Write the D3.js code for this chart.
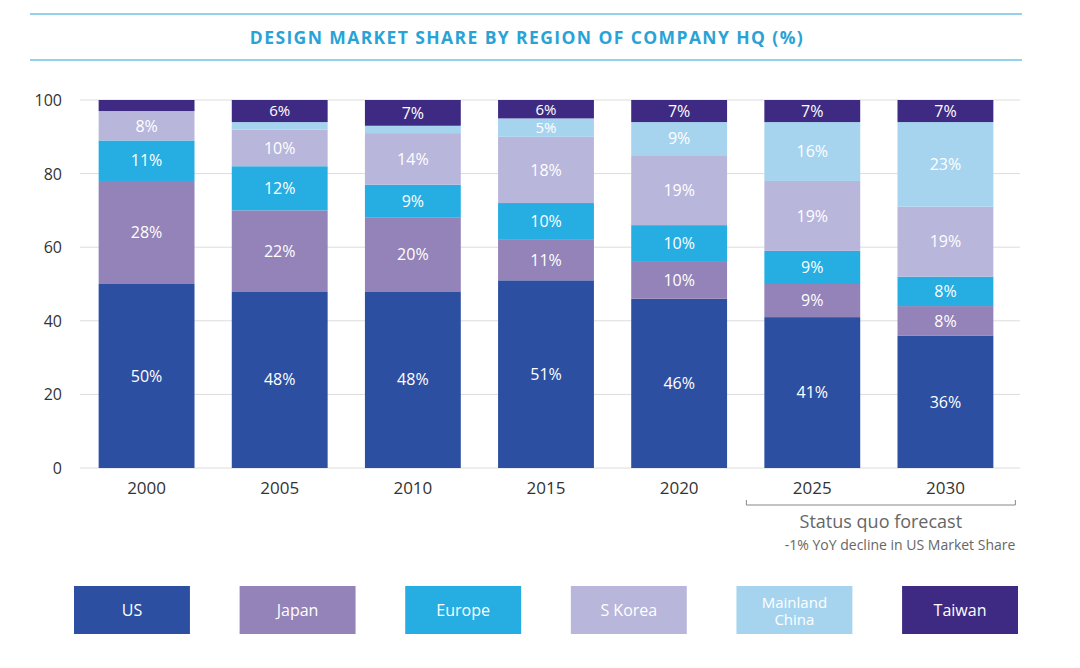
<!DOCTYPE html>
<html><head><meta charset="utf-8">
<script src="https://cdn.jsdelivr.net/npm/d3@7"></script>
<style>body{margin:0;background:#fff;font-family:"Open Sans",sans-serif}</style>
</head><body><svg id="c" width="1080" height="668"></svg>
<script>
const years = ["2000","2005","2010","2015","2020","2025","2030"];
const regions = ["US","Japan","Europe","S Korea","Mainland China","Taiwan"];
const colors = ["#2d4fa2","#9383b8","#26ade2","#b9b6dc","#a6d4ef","#3e2a82"];
const US     = [50,48,48,51,46,41,36];
const Japan  = [28,22,20,11,10,9,8];
const Europe = [11,12,9,10,10,9,8];
const Korea  = [8,10,14,18,19,19,19];
const China  = [0,2,2,5,9,16,23];
const Taiwan = [3,6,7,6,7,7,7];
const labelMin = 5;
const series = [US,Japan,Europe,Korea,China,Taiwan];
const yTicks = [0,20,40,60,80,100];

const svg = d3.select("#c");
svg.append("line").attr("x1",30).attr("x2",1022).attr("y1",14).attr("y2",14).attr("stroke","#29a3d6");
svg.append("line").attr("x1",30).attr("x2",1022).attr("y1",60).attr("y2",60).attr("stroke","#29a3d6");
svg.append("text").attr("x",527).attr("y",44).attr("text-anchor","middle").attr("fill","#29a3d6")
  .attr("font-weight","bold").attr("font-size",17.5).attr("letter-spacing",1.4).text("DESIGN MARKET SHARE BY REGION OF COMPANY HQ (%)");

const x = d3.scaleBand().domain(years).range([80,1012]).paddingInner(0.28).paddingOuter(0.14);
const y = d3.scaleLinear().domain([0,100]).range([468,100]);

svg.append("g").selectAll("line").data(yTicks).join("line")
  .attr("x1",80).attr("x2",1020).attr("y1",d=>y(d)).attr("y2",d=>y(d)).attr("stroke","#dcdcdc");
svg.append("g").selectAll("text").data(yTicks).join("text")
  .attr("x",62).attr("y",d=>y(d)+6).attr("text-anchor","end").attr("font-size",16).attr("fill","#333").text(d=>d);

years.forEach((yr,i)=>{
  let base=0;
  series.forEach((s,j)=>{
    const v=s[i]; if(!v) return;
    const top=Math.min(100,base+v);
    svg.append("rect").attr("x",x(yr)).attr("width",x.bandwidth())
      .attr("y",y(top)).attr("height",y(base)-y(top)).attr("fill",colors[j]);
    if(v>=labelMin){
      const fs = v<=6 ? 15 : 16;
      svg.append("text").attr("x",x(yr)+x.bandwidth()/2).attr("y",(y(base)+y(top))/2+fs*0.36)
        .attr("text-anchor","middle").attr("font-size",fs)
        .attr("fill","#fff").text(v+"%");
    }
    base=top;
  });
  svg.append("text").attr("x",x(yr)+x.bandwidth()/2).attr("y",494).attr("text-anchor","middle")
    .attr("font-size",17).attr("fill","#333").text(yr);
});

const x0=x("2025")-18, x1=x("2030")+x.bandwidth()+22;
svg.append("path").attr("d",`M${x0},500V505H${x1}V500`).attr("fill","none").attr("stroke","#888");
svg.append("text").attr("x",(x0+x1)/2).attr("y",528).attr("text-anchor","middle").attr("font-size",18).attr("fill","#666").text("Status quo forecast");
svg.append("text").attr("x",x1).attr("y",550).attr("text-anchor","end").attr("font-size",14).attr("fill","#666").text("-1% YoY decline in US Market Share");

const lx = d3.scaleBand().domain(regions).range([74,1018]).paddingInner(0.3);
regions.forEach((r,j)=>{
  svg.append("rect").attr("x",lx(r)).attr("y",586).attr("width",lx.bandwidth()).attr("height",48).attr("fill",colors[j]);
  const lines = r==="Mainland China"?["Mainland","China"]:[r];
  lines.forEach((t,k)=>svg.append("text").attr("x",lx(r)+lx.bandwidth()/2)
    .attr("y",616+(k-(lines.length-1)/2)*17).attr("text-anchor","middle").attr("font-size",lines.length>1?15:16).attr("fill","#fff").text(t));
});
</script></body></html>
